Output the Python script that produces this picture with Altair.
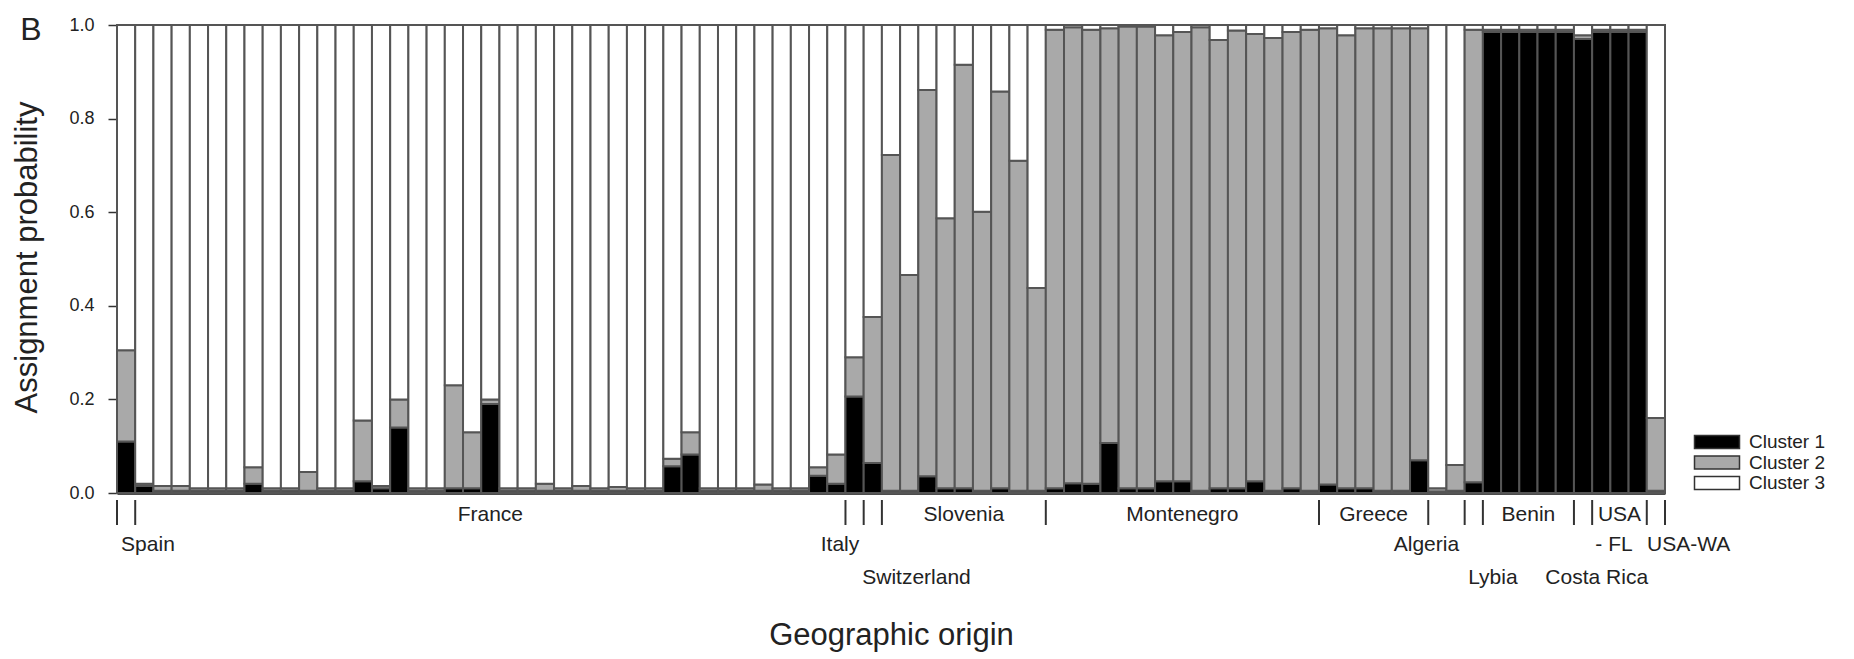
import altair as alt
import pandas as pd

FONT = "Liberation Sans"

# Assignment probabilities (one value per individual, left to right)
cluster1 = [
    0.110,                                                      # Spain
    0.015, 0.005, 0.005, 0.005, 0.005, 0.005, 0.020, 0.005, 0.005, 0.005,
    0.005, 0.005, 0.025, 0.010, 0.140, 0.005, 0.005, 0.010, 0.010, 0.190,
    0.005, 0.005, 0.005, 0.005, 0.005, 0.005, 0.005, 0.005, 0.005, 0.057,
    0.082, 0.005, 0.005, 0.005, 0.005, 0.005, 0.005, 0.037, 0.020,  # France
    0.206,                                                      # Italy
    0.064,                                                      # Switzerland
    0.005, 0.005, 0.036, 0.010, 0.010, 0.005, 0.010, 0.005, 0.005,  # Slovenia
    0.010, 0.021, 0.020, 0.107, 0.010, 0.010, 0.025, 0.025, 0.005, 0.010,
    0.010, 0.025, 0.005, 0.010, 0.005,                          # Montenegro
    0.018, 0.010, 0.010, 0.005, 0.005, 0.070,                   # Greece
    0.003, 0.005,                                               # Algeria
    0.023,                                                      # Lybia
    0.985, 0.985, 0.985, 0.985, 0.985,                          # Benin
    0.970,                                                      # Costa Rica
    0.985, 0.985, 0.985,                                        # USA-FL
    0.005,                                                      # USA-WA
]
cluster2 = [
    0.195,
    0.005, 0.010, 0.010, 0.005, 0.005, 0.005, 0.035, 0.005, 0.005, 0.040,
    0.005, 0.005, 0.130, 0.005, 0.060, 0.005, 0.005, 0.220, 0.120, 0.010,
    0.005, 0.005, 0.015, 0.005, 0.010, 0.005, 0.008, 0.005, 0.005, 0.016,
    0.048, 0.005, 0.005, 0.005, 0.013, 0.005, 0.005, 0.018, 0.062,
    0.084,
    0.312,
    0.717, 0.461, 0.825, 0.577, 0.905, 0.596, 0.848, 0.705, 0.433,
    0.980, 0.974, 0.970, 0.886, 0.987, 0.987, 0.953, 0.960, 0.990, 0.958,
    0.978, 0.956, 0.967, 0.975, 0.985,
    0.975, 0.968, 0.983, 0.988, 0.988, 0.923,
    0.007, 0.055,
    0.967,
    0.005, 0.005, 0.005, 0.005, 0.005,
    0.008,
    0.005, 0.005, 0.005,
    0.155,
]
clusters = ["Cluster 1", "Cluster 2", "Cluster 3"]
fills = ["#000000", "#a9a9a9", "#ffffff"]

# group separators (bar index boundaries) and origin labels
boundaries = [0, 1, 40, 41, 42, 51, 66, 72, 74, 75, 80, 81, 84, 85]
row1_labels = ["France", "Slovenia", "Montenegro", "Greece", "Benin", "USA"]
row1_pos = [20.5, 46.5, 58.5, 69.0, 77.5, 82.5]
row2_labels = ["Spain", "Italy", "Algeria", "- FL", "USA-WA"]
row2_pos = [1.7, 39.7, 71.9, 82.2, 86.3]
row3_labels = ["Switzerland", "Lybia", "Costa Rica"]
row3_pos = [43.9, 75.55, 81.25]
y_ticks = [0.0, 0.2, 0.4, 0.6, 0.8, 1.0]

n_bars = len(cluster1)
rows = []
for i, (a, b) in enumerate(zip(cluster1, cluster2)):
    c = max(0.0, 1.0 - a - b)
    lo = 0.0
    for k, v in enumerate([a, b, c]):
        rows.append({"bar": i, "bar_end": i + 1, "cluster": clusters[k],
                     "lo": lo, "hi": lo + v})
        lo += v
df = pd.DataFrame(rows)

W, H = 1548, 468
xscale = alt.Scale(domain=[0, n_bars], nice=False, zero=False)
yscale = alt.Scale(domain=[0, 1], nice=False)

bars = alt.Chart(df).mark_rect(stroke="#555555", strokeWidth=2).encode(
    x=alt.X("bar:Q", scale=xscale,
            axis=alt.Axis(labels=False, ticks=False, grid=False, domain=True,
                          domainColor="#111111", domainWidth=2.5,
                          title="Geographic origin", titleFont=FONT,
                          titleFontSize=31, titleFontWeight="normal",
                          titleColor="#222222", titleX=W / 2, titleY=151,
                          titleAlign="center", titleBaseline="alphabetic")),
    x2="bar_end:Q",
    y=alt.Y("lo:Q", scale=yscale,
            axis=alt.Axis(values=y_ticks, format=".1f", grid=False,
                          domainColor="#111111", domainWidth=2,
                          tickSize=9, tickWidth=1.5, tickColor="#333333",
                          labelFont=FONT, labelFontSize=18, labelColor="#222222",
                          labelPadding=14,
                          title="Assignment probability", titleFont=FONT,
                          titleFontSize=31, titleFontWeight="normal",
                          titleColor="#222222", titleX=-90, titleY=H / 2 - 2,
                          titleAlign="center", titleBaseline="middle")),
    y2="hi:Q",
    color=alt.Color("cluster:N",
                    scale=alt.Scale(domain=clusters, range=fills),
                    legend=alt.Legend(title=None, orient="none",
                                      legendX=1590, legendY=407,
                                      symbolType="M-2.5,-0.72L2.5,-0.72L2.5,0.72L-2.5,0.72Z",
                                      symbolSize=324, symbolStrokeColor="#333333",
                                      symbolStrokeWidth=1.5, symbolOpacity=1,
                                      labelFont=FONT, labelFontSize=19,
                                      labelColor="#222222", labelOffset=22,
                                      rowPadding=0.5)),
)

seps = alt.Chart(pd.DataFrame({"b": boundaries})).mark_rule(
    color="#333333", strokeWidth=2).encode(
    x=alt.X("b:Q", scale=xscale), y=alt.value(H + 7), y2=alt.value(H + 32))


def label_layer(labels, pos, ypx):
    d = pd.DataFrame({"label": labels, "pos": pos})
    return alt.Chart(d).mark_text(font=FONT, fontSize=21, color="#222222",
                                  align="center", baseline="middle").encode(
        x=alt.X("pos:Q", scale=xscale), y=alt.value(ypx), text="label:N")


panel = alt.Chart(pd.DataFrame({"t": ["B"]})).mark_text(
    font=FONT, fontSize=32, color="#222222", align="center",
    baseline="alphabetic").encode(x=alt.value(-86), y=alt.value(15), text="t:N")

chart = alt.layer(
    bars, seps,
    label_layer(row1_labels, row1_pos, H + 22),
    label_layer(row2_labels, row2_pos, H + 52),
    label_layer(row3_labels, row3_pos, H + 85),
    panel,
).properties(
    width=W, height=H,
    padding={"left": 109, "top": 17, "right": 180, "bottom": 160},
    autosize=alt.AutoSizeParams(type="none"),
).configure_view(stroke="#222222", strokeWidth=2)

chart.save("out.html", embed_options={"renderer": "svg", "actions": False})
